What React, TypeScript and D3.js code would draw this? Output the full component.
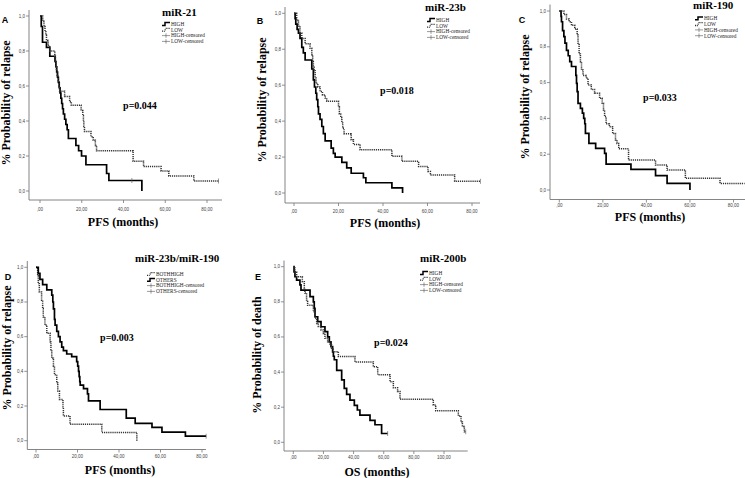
import React from "react";
import * as d3 from "d3";

// Kaplan-Meier step data (months, survival fraction)

// A: miR-21, PFS
const aHighT = [0, 0.6, 1.2, 3.1, 4.7, 7.2, 7.6, 8.0, 8.4, 8.8, 9.2, 9.6, 10.0, 10.4, 10.8, 11.2, 11.8, 12.4, 13.0, 13.6, 17.2, 18.5, 19.9, 22.0, 31.9, 33.0, 48.8];
const aHighS = [1.0, 0.94, 0.85, 0.82, 0.77, 0.74, 0.71, 0.68, 0.65, 0.62, 0.59, 0.56, 0.53, 0.5, 0.47, 0.44, 0.41, 0.38, 0.35, 0.3, 0.26, 0.23, 0.2, 0.15, 0.1, 0.06, 0.0];
const aLowT = [0, 1.3, 1.9, 2.4, 2.8, 3.1, 3.9, 4.7, 7.1, 7.4, 7.6, 7.9, 8.2, 8.7, 9.1, 9.4, 11.8, 14.2, 15.0, 19.7, 20.5, 20.8, 21.0, 21.3, 21.6, 24.4, 25.5, 26.5, 27.1, 44.6, 49.6, 58.0, 61.7, 73.7, 85.5];
const aLowS = [1.0, 0.97, 0.94, 0.91, 0.89, 0.86, 0.83, 0.8, 0.77, 0.74, 0.71, 0.69, 0.66, 0.63, 0.6, 0.57, 0.54, 0.51, 0.49, 0.46, 0.43, 0.4, 0.37, 0.34, 0.34, 0.31, 0.29, 0.26, 0.23, 0.17, 0.14, 0.115, 0.086, 0.057, 0.057];
const aHighCens = [44];
const aLowCens = [85.5];

// B: miR-23b, PFS
const bHighT = [0, 0.5, 0.8, 1.4, 2.0, 2.7, 3.5, 4.2, 5.0, 8.0, 8.7, 9.2, 9.8, 10.2, 10.7, 11.0, 11.7, 12.5, 13.2, 14.0, 16.7, 17.7, 18.5, 21.5, 23.7, 25.7, 31.2, 32.3, 44.0, 48.8];
const bHighS = [1.0, 0.97, 0.94, 0.91, 0.89, 0.86, 0.81, 0.78, 0.74, 0.69, 0.63, 0.59, 0.555, 0.52, 0.48, 0.44, 0.41, 0.37, 0.33, 0.29, 0.25, 0.22, 0.2, 0.17, 0.14, 0.11, 0.085, 0.057, 0.028, 0.0];
const bLowT = [0, 1.2, 2.0, 2.7, 3.5, 5.0, 7.2, 8.0, 8.4, 8.7, 9.0, 9.5, 9.9, 10.7, 11.7, 12.8, 14.0, 14.7, 20.0, 20.4, 21.0, 21.5, 21.9, 22.5, 25.7, 26.7, 29.7, 44.0, 48.5, 56.0, 60.2, 61.3, 72.2, 83.8];
const bLowS = [1.0, 0.96, 0.93, 0.89, 0.86, 0.83, 0.805, 0.77, 0.73, 0.7, 0.68, 0.64, 0.61, 0.59, 0.565, 0.546, 0.528, 0.51, 0.48, 0.44, 0.42, 0.39, 0.36, 0.33, 0.296, 0.27, 0.24, 0.204, 0.176, 0.148, 0.12, 0.1, 0.065, 0.065];
const bHighCens: number[] = [];
const bLowCens = [83.8];

// C: miR-190, PFS
const cHighT = [0, 0.8, 1.0, 1.5, 2.1, 2.6, 3.3, 4.1, 4.8, 5.6, 7.6, 7.9, 8.2, 8.6, 9.7, 10.6, 11.2, 11.7, 12.0, 13.6, 16.7, 20.8, 21.5, 32.9, 44.2, 49.5, 60.0];
const cHighS = [1.0, 0.97, 0.94, 0.89, 0.857, 0.82, 0.78, 0.75, 0.717, 0.69, 0.64, 0.596, 0.55, 0.484, 0.456, 0.43, 0.4, 0.37, 0.316, 0.26, 0.233, 0.205, 0.145, 0.115, 0.08, 0.037, 0.0];
const cLowT = [0, 2.1, 3.3, 4.5, 5.6, 7.1, 8.2, 8.6, 9.1, 9.7, 10.2, 10.9, 12.4, 13.2, 14.7, 16.2, 18.5, 19.7, 20.3, 20.8, 21.5, 23.0, 24.5, 25.8, 26.5, 27.3, 31.8, 44.2, 49.5, 57.9, 73.8, 85.1];
const cLowS = [1.0, 0.98, 0.955, 0.94, 0.92, 0.9, 0.866, 0.82, 0.76, 0.717, 0.67, 0.64, 0.624, 0.587, 0.562, 0.54, 0.512, 0.484, 0.447, 0.41, 0.37, 0.354, 0.316, 0.28, 0.26, 0.23, 0.167, 0.14, 0.112, 0.065, 0.037, 0.037];
const cHighCens: number[] = [];
const cLowCens: number[] = [];

// D: miR-23b/miR-190, PFS
const dBothT = [0, 0.8, 1.1, 1.6, 2.7, 3.2, 3.5, 4.3, 5.2, 6.8, 7.2, 7.6, 8.4, 8.9, 10.0, 10.5, 11.3, 13.0, 13.2, 16.4, 31.7, 48.6];
const dBothS = [1.0, 0.952, 0.905, 0.857, 0.81, 0.762, 0.714, 0.667, 0.619, 0.571, 0.524, 0.476, 0.429, 0.381, 0.333, 0.286, 0.238, 0.19, 0.143, 0.095, 0.048, 0.0];
const dOthT = [0, 1.1, 1.9, 3.2, 5.2, 7.6, 8.1, 8.4, 8.9, 9.2, 10.0, 10.8, 11.6, 12.4, 13.2, 14.8, 17.2, 19.6, 20.1, 20.5, 20.8, 21.1, 21.3, 22.9, 24.8, 25.3, 30.9, 43.5, 47.8, 55.9, 60.7, 72.0, 82.0];
const dOthS = [1.0, 0.965, 0.93, 0.9, 0.87, 0.84, 0.8, 0.76, 0.7, 0.667, 0.63, 0.6, 0.57, 0.54, 0.52, 0.5, 0.485, 0.456, 0.43, 0.4, 0.37, 0.34, 0.32, 0.3, 0.27, 0.23, 0.18, 0.13, 0.1, 0.077, 0.05, 0.026, 0.026];
const dBothCens: number[] = [];
const dOthCens = [82.0];

// E: miR-200b, OS
const eHighT = [0, 0.5, 1.1, 2.2, 4.4, 5.1, 11.1, 13.3, 13.9, 14.4, 16.2, 18.4, 21.0, 22.8, 23.9, 25.0, 26.1, 26.6, 27.2, 28.8, 32.1, 33.8, 35.4, 37.6, 40.5, 42.5, 44.2, 50.9, 54.2, 58.6, 62.6];
const eHighS = [1.0, 0.97, 0.943, 0.924, 0.896, 0.867, 0.83, 0.8, 0.763, 0.715, 0.687, 0.658, 0.63, 0.6, 0.572, 0.545, 0.515, 0.49, 0.47, 0.41, 0.355, 0.307, 0.273, 0.24, 0.21, 0.184, 0.155, 0.125, 0.1, 0.05, 0.05];
const eLowT = [0, 1.1, 2.2, 6.0, 7.3, 7.7, 8.8, 9.5, 13.3, 14.4, 15.5, 16.6, 18.4, 19.9, 21.0, 22.8, 24.3, 25.4, 26.5, 29.9, 40.9, 53.1, 56.0, 64.2, 66.4, 69.2, 70.8, 92.9, 94.5, 109.5, 111.3, 112.2, 113.5, 114.4];
const eLowS = [1.0, 0.97, 0.943, 0.915, 0.877, 0.85, 0.81, 0.78, 0.744, 0.706, 0.677, 0.66, 0.64, 0.62, 0.592, 0.573, 0.554, 0.535, 0.516, 0.488, 0.458, 0.43, 0.385, 0.345, 0.31, 0.29, 0.245, 0.213, 0.18, 0.15, 0.115, 0.09, 0.06, 0.06];
const eHighCens = [62.6];
const eLowCens = [114.4];

const yTicks = [0, 0.2, 0.4, 0.6, 0.8, 1.0];
const yTickLabels = ["0,0", "0,2", "0,4", "0,6", "0,8", "1,0"];
const xTicksPFS = [0, 20, 40, 60, 80];
const xTickLabelsPFS = [",00", "20,00", "40,00", "60,00", "80,00"];
const xTicksOS = [0, 20, 40, 60, 80, 100];
const xTickLabelsOS = [",00", "20,00", "40,00", "60,00", "80,00", "100,00"];

const serif = "'Liberation Serif', 'Times New Roman', serif";
const sans = "'Liberation Sans', Arial, sans-serif";

type Curve = { t: number[]; s: number[]; cens: number[]; dotted: boolean };

const survAt = (c: Curve, time: number) => {
  const i = d3.bisectRight(c.t, time) - 1;
  return c.s[Math.max(0, i)];
};

const Panel = (props: any) => {
  const p = props.cfg;
  const x = d3.scaleLinear().domain([0, p.xRef]).range([p.x0, p.xRefPx]);
  const y = d3.scaleLinear().domain([0, 1]).range([p.yZero, p.yOne]);
  const line = d3
    .line<[number, number]>()
    .x((d) => x(d[0]))
    .y((d) => y(d[1]))
    .curve(d3.curveStepAfter);

  return (
    <g>
      {/* axes */}
      <line x1={p.left} x2={p.left} y1={p.top} y2={p.bottom} stroke="#777" strokeWidth={0.9} />
      <line x1={p.left} x2={p.right} y1={p.bottom} y2={p.bottom} stroke="#777" strokeWidth={0.9} />
      {yTicks.map((v, i) => (
        <g key={"y" + i}>
          <line x1={p.left - 3} x2={p.left} y1={y(v)} y2={y(v)} stroke="#777" strokeWidth={0.8} />
          <text x={p.left - 4} y={y(v) + 1.5} textAnchor="end" fontSize={4.5} fontFamily={sans} fill="#444">
            {yTickLabels[i]}
          </text>
        </g>
      ))}
      {p.xTicks.map((v: number, i: number) => (
        <g key={"x" + i}>
          <line x1={x(v)} x2={x(v)} y1={p.bottom} y2={p.bottom + 3} stroke="#777" strokeWidth={0.8} />
          <text x={x(v)} y={p.bottom + p.tickOff} textAnchor="middle" fontSize={4.5} fontFamily={sans} fill="#444">
            {p.xTickLabels[i]}
          </text>
        </g>
      ))}

      {/* curves */}
      {p.curves.map((c: Curve, i: number) => (
        <g key={"c" + i}>
          <path
            d={line(c.t.map((t, j) => [t, c.s[j]] as [number, number])) || ""}
            fill="none"
            stroke={c.dotted ? "#333" : "#000"}
            strokeWidth={c.dotted ? 1.5 : 1.7}
            strokeDasharray={c.dotted ? "1.2,0.9" : undefined}
          />
          {c.cens.map((ct, k) => (
            <line
              key={k}
              x1={x(ct)}
              x2={x(ct)}
              y1={y(survAt(c, ct)) - 2.5}
              y2={y(survAt(c, ct)) + 2.5}
              stroke="#555"
              strokeWidth={0.6}
            />
          ))}
        </g>
      ))}

      {/* texts */}
      <text x={p.letter[0]} y={p.letter[1]} textAnchor="middle" fontSize={9} fontWeight="bold" fontFamily={sans}>
        {p.id}
      </text>
      <text x={p.titleX} y={p.titleY} fontSize={11} fontWeight="bold" fontFamily={serif}>
        {p.title}
      </text>
      {p.legend.map((lab: string, i: number) => {
        const ly = p.legendY + i * 5.8;
        const lx = p.legendX;
        const kind = p.legendKinds[i];
        return (
          <g key={"l" + i}>
            {kind === "solid" && (
              <path d={`M${lx},${ly + 1.4} h3 v-2.8 h5`} fill="none" stroke="#000" strokeWidth={1.5} />
            )}
            {kind === "dotted" && (
              <path
                d={`M${lx},${ly + 1.4} h2.5 l1.5,-2.8 h4`}
                fill="none"
                stroke="#333"
                strokeWidth={1.3}
                strokeDasharray="1,0.8"
              />
            )}
            {kind === "cens" && (
              <path d={`M${lx},${ly} h8 M${lx + 4},${ly - 2.2} v4.4`} fill="none" stroke="#555" strokeWidth={0.6} />
            )}
            <text x={lx + 9} y={ly + 1.8} fontSize={5.3} fontFamily={serif} fill="#222">
              {lab}
            </text>
          </g>
        );
      })}
      <text x={p.pX} y={p.pY} textAnchor="middle" fontSize={10} fontWeight="bold" fontFamily={serif}>
        {p.pText}
      </text>
      <text
        transform={`translate(${p.yLabX},${p.yLabY}) rotate(-90)`}
        textAnchor="middle"
        fontSize={12}
        fontWeight="bold"
        fontFamily={serif}
      >
        {p.yLabel}
      </text>
      <text x={p.xLabX} y={p.xLabY} textAnchor="middle" fontSize={12} fontWeight="bold" fontFamily={serif}>
        {p.xLabel}
      </text>
    </g>
  );
};

const hiLoLegend = ["HIGH", "LOW", "HIGH-censored", "LOW-censored"];
const hiLoKinds = ["solid", "dotted", "cens", "cens"];

const panels = [
  {
    id: "A", title: "miR-21", pText: "p=0.044",
    yLabel: "% Probability of relapse", xLabel: "PFS (months)",
    xTicks: xTicksPFS, xTickLabels: xTickLabelsPFS, xRef: 80,
    x0: 40, xRefPx: 207, left: 29, right: 222,
    yZero: 191, yOne: 16, top: 10, bottom: 200, tickOff: 10.5,
    letter: [5, 23.3], titleX: 162, titleY: 16,
    legend: hiLoLegend, legendKinds: hiLoKinds, legendX: 162, legendY: 24,
    pX: 140, pY: 108.5, yLabX: 9.5, yLabY: 103, xLabX: 123, xLabY: 226,
    curves: [
      { t: aHighT, s: aHighS, cens: aHighCens, dotted: false },
      { t: aLowT, s: aLowS, cens: aLowCens, dotted: true },
    ],
  },
  {
    id: "B", title: "miR-23b", pText: "p=0.018",
    yLabel: "% Probability of relapse", xLabel: "PFS (months)",
    xTicks: xTicksPFS, xTickLabels: xTickLabelsPFS, xRef: 80,
    x0: 294, xRefPx: 472, left: 285, right: 480,
    yZero: 193, yOne: 13.3, top: 7, bottom: 203, tickOff: 10,
    letter: [260, 23.5], titleX: 425, titleY: 11,
    legend: hiLoLegend, legendKinds: hiLoKinds, legendX: 427, legendY: 20,
    pX: 397, pY: 94, yLabX: 266, yLabY: 100, xLabX: 385, xLabY: 227,
    curves: [
      { t: bHighT, s: bHighS, cens: bHighCens, dotted: false },
      { t: bLowT, s: bLowS, cens: bLowCens, dotted: true },
    ],
  },
  {
    id: "C", title: "miR-190", pText: "p=0.033",
    yLabel: "% Probability of relapse", xLabel: "PFS (months)",
    xTicks: xTicksPFS, xTickLabels: xTickLabelsPFS, xRef: 80,
    x0: 559.3, xRefPx: 733.5, left: 550, right: 760,
    yZero: 190, yOne: 11, top: 4.5, bottom: 199.5, tickOff: 7.5,
    letter: [522, 23], titleX: 693, titleY: 8.5,
    legend: hiLoLegend, legendKinds: hiLoKinds, legendX: 695, legendY: 18.3,
    pX: 660, pY: 101, yLabX: 528.5, yLabY: 97, xLabX: 650, xLabY: 221,
    curves: [
      { t: cHighT, s: cHighS, cens: cHighCens, dotted: false },
      { t: cLowT, s: cLowS, cens: cLowCens, dotted: true },
    ],
  },
  {
    id: "D", title: "miR-23b/miR-190", pText: "p=0.003",
    yLabel: "% Probability of relapse", xLabel: "PFS (months)",
    xTicks: xTicksPFS, xTickLabels: xTickLabelsPFS, xRef: 80,
    x0: 36, xRefPx: 202, left: 27.3, right: 206,
    yZero: 440.7, yOne: 267.3, top: 261, bottom: 449.5, tickOff: 8.5,
    letter: [8, 280], titleX: 135, titleY: 262,
    legend: ["BOTHHIGH", "OTHERS", "BOTHHIGH-censored", "OTHERS-censored"],
    legendKinds: ["dotted", "solid", "cens", "cens"], legendX: 147, legendY: 274,
    pX: 117, pY: 341, yLabX: 10.5, yLabY: 348, xLabX: 120, xLabY: 474,
    curves: [
      { t: dBothT, s: dBothS, cens: dBothCens, dotted: true },
      { t: dOthT, s: dOthS, cens: dOthCens, dotted: false },
    ],
  },
  {
    id: "E", title: "miR-200b", pText: "p=0.024",
    yLabel: "% Probability of death", xLabel: "OS (months)",
    xTicks: xTicksOS, xTickLabels: xTickLabelsOS, xRef: 100,
    x0: 293.3, xRefPx: 444, left: 284, right: 467.7,
    yZero: 442.3, yOne: 266.7, top: 260.5, bottom: 451, tickOff: 8,
    letter: [258, 280], titleX: 420, titleY: 262,
    legend: hiLoLegend, legendKinds: hiLoKinds, legendX: 420, legendY: 273,
    pX: 391, pY: 346, yLabX: 260.5, yLabY: 355, xLabX: 377, xLabY: 476,
    curves: [
      { t: eHighT, s: eHighS, cens: eHighCens, dotted: false },
      { t: eLowT, s: eLowS, cens: eLowCens, dotted: true },
    ],
  },
];

const App = () => {
  return (
    <svg
      width={745}
      height={478}
      style={{ position: "absolute", left: 0, top: 0, background: "#fff" }}
    >
      <rect width={745} height={478} fill="#fff" />
      {panels.map((p) => (
        <Panel key={p.id} cfg={p} />
      ))}
    </svg>
  );
};

export default App;
